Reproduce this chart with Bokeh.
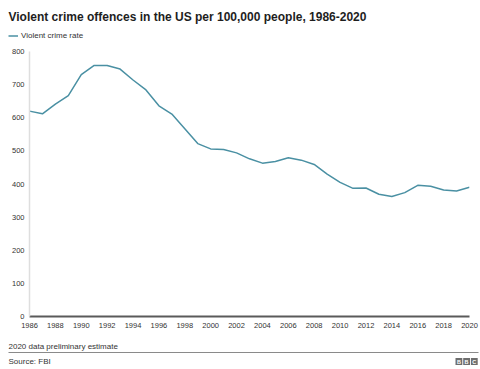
from bokeh.plotting import figure
from bokeh.layouts import column, row
from bokeh.models import (Range1d, FixedTicker, Label, BoxAnnotation, Legend,
                          LegendItem, ColumnDataSource)
from bokeh.embed import file_html
from bokeh.resources import INLINE

# ---- data ----
years = [1986, 1987, 1988, 1989, 1990, 1991, 1992, 1993, 1994, 1995,
         1996, 1997, 1998, 1999, 2000, 2001, 2002, 2003, 2004, 2005,
         2006, 2007, 2008, 2009, 2010, 2011, 2012, 2013, 2014, 2015,
         2016, 2017, 2018, 2019, 2020]
rates = [620, 612, 641, 667, 730, 758, 758, 747, 714, 684,
         636, 611, 567, 522, 506, 504, 494, 476, 463, 468,
         479, 472, 459, 430, 405, 387, 388, 369, 362, 374,
         396, 393, 382, 379, 390]
x_ticks = [1986, 1988, 1990, 1992, 1994, 1996, 1998, 2000, 2002, 2004,
           2006, 2008, 2010, 2012, 2014, 2016, 2018, 2020]
y_ticks = [0, 100, 200, 300, 400, 500, 600, 700, 800]
title_text = "Violent crime offences in the US per 100,000 people, 1986-2020"
series_name = "Violent crime rate"
note_text = "2020 data preliminary estimate"
source_text = "Source: FBI"
logo_letters = ["B", "B", "C"]

FONT = "Liberation Sans"
LINE_COLOR = "#4a90a3"
TEXT_COLOR = "#333333"
W = 480
HEAD_H, MAIN_H, FOOT_H = 43, 294, 32


def deco_figure(h):
    f = figure(width=W, height=h, output_backend="svg", toolbar_location=None,
               x_range=Range1d(0, W), y_range=Range1d(h, 0),
               x_axis_type=None, y_axis_type=None, min_border=0,
               min_border_left=0, min_border_right=0,
               min_border_top=0, min_border_bottom=0)
    f.outline_line_color = None
    f.xgrid.grid_line_color = None
    f.ygrid.grid_line_color = None
    f.background_fill_color = "white"
    f.border_fill_color = "white"
    return f


# ---- header: title + legend ----
head = deco_figure(HEAD_H)
head.add_layout(Label(x=8, y=16, text=title_text, text_font=FONT,
                      text_font_style="bold", text_font_size="12px",
                      text_baseline="middle", text_color="#1e1e1e"))
swatch = head.line(x=[-20, -10], y=[-20, -10], line_color=LINE_COLOR, line_width=1.5)
legend = Legend(items=[LegendItem(label=series_name, renderers=[swatch])],
                location=(8, 3.5), margin=0, padding=0, spacing=0,
                glyph_width=10, glyph_height=9, label_height=9,
                label_standoff=3, label_text_font=FONT,
                label_text_font_size="8px", label_text_color=TEXT_COLOR,
                background_fill_alpha=0, border_line_alpha=0)
head.add_layout(legend)

# ---- main chart ----
src = ColumnDataSource(dict(year=years, rate=rates))
p = figure(width=W, height=MAIN_H, output_backend="svg", toolbar_location=None,
           x_range=Range1d(years[0], years[-1]),
           y_range=Range1d(y_ticks[0], y_ticks[-1]),
           min_border_left=29, min_border_right=11, min_border_top=8,
           min_border_bottom=MAIN_H - 8 - 265)
p.outline_line_color = None
p.xgrid.grid_line_color = None
p.ygrid.grid_line_color = None
p.background_fill_color = "white"
p.border_fill_color = "white"

xa = p.xaxis[0]
xa.ticker = FixedTicker(ticks=x_ticks)
xa.major_tick_line_color = None
xa.minor_tick_line_color = None
xa.major_tick_out = 0
xa.major_tick_in = 0
xa.minor_tick_out = 0
xa.minor_tick_in = 0
xa.axis_line_color = "#5a5a5a"
xa.axis_line_width = 2
xa.major_label_text_font = FONT
xa.major_label_text_font_size = "7.5px"
xa.major_label_text_color = TEXT_COLOR
xa.major_label_standoff = 6

ya = p.yaxis[0]
ya.ticker = FixedTicker(ticks=y_ticks)
ya.major_tick_line_color = None
ya.minor_tick_line_color = None
ya.major_tick_out = 0
ya.major_tick_in = 0
ya.minor_tick_out = 0
ya.minor_tick_in = 0
ya.axis_line_color = "#dedede"
ya.axis_line_width = 1.5
ya.major_label_text_font = FONT
ya.major_label_text_font_size = "7.5px"
ya.major_label_text_color = TEXT_COLOR
ya.major_label_standoff = 5

p.line(x="year", y="rate", source=src, line_color=LINE_COLOR, line_width=1.5)

# ---- footer: note, rule, source, logo ----
foot = deco_figure(FOOT_H)
foot.add_layout(Label(x=8, y=9, text=note_text, text_font=FONT,
                      text_font_size="8px", text_baseline="middle",
                      text_color=TEXT_COLOR))
foot.add_layout(BoxAnnotation(left=8, right=478, top=14.5, bottom=15.5,
                              fill_color="#8a8a8a", fill_alpha=1, line_alpha=0))
foot.add_layout(Label(x=8, y=24, text=source_text, text_font=FONT,
                      text_font_size="8px", text_baseline="middle",
                      text_color=TEXT_COLOR))
for i, letter in enumerate(logo_letters):
    left = 455 + 7.7 * i
    foot.add_layout(BoxAnnotation(left=left, right=left + 6.8, top=20.6, bottom=27.4,
                                  fill_color="#6e6e6e", fill_alpha=1,
                                  line_alpha=0))
    foot.add_layout(Label(x=left + 3.4, y=24.2, text=letter, text_font=FONT,
                          text_font_style="bold", text_font_size="5.5px",
                          text_align="center", text_baseline="middle",
                          text_color="white"))

layout = column(head, row(p), foot, spacing=0)
open("out.html", "w").write(file_html(layout, INLINE))
